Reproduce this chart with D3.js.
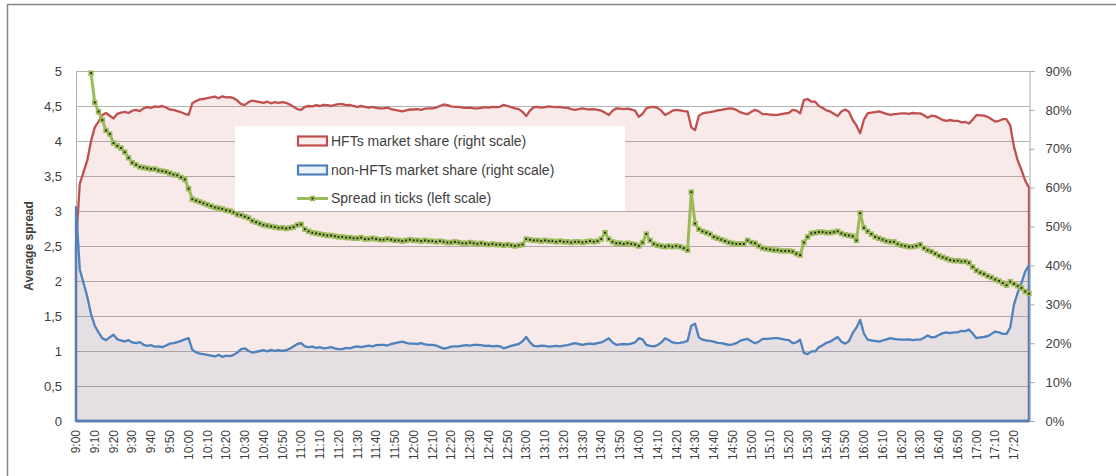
<!doctype html>
<html>
<head>
<meta charset="utf-8">
<script src="https://cdn.jsdelivr.net/npm/d3@7"></script>
<style>
  body { margin: 0; background: #fff; }
  text { font-family: "Liberation Sans", Arial, sans-serif; fill: #404040; }
</style>
</head>
<body>
<svg width="1116" height="476" id="chart"></svg>
<script>
// data: one point every 2 minutes from 9:00 to 17:28
const stepMinutes = 2;

const tickLabels = ["9:00","9:10","9:20","9:30","9:40","9:50","10:00","10:10","10:20","10:30","10:40","10:50",
  "11:00","11:10","11:20","11:30","11:40","11:50","12:00","12:10","12:20","12:30","12:40","12:50",
  "13:00","13:10","13:20","13:30","13:40","13:50","14:00","14:10","14:20","14:30","14:40","14:50",
  "15:00","15:10","15:20","15:30","15:40","15:50","16:00","16:10","16:20","16:30","16:40","16:50",
  "17:00","17:10","17:20"];

const leftTicks = [0, 0.5, 1, 1.5, 2, 2.5, 3, 3.5, 4, 4.5, 5];
const rightTicks = [0, 10, 20, 30, 40, 50, 60, 70, 80, 90];

// HFTs market share, % (right scale)
const hftShare = [
  45, 61, 64, 67, 72, 75.5, 77, 78.7, 79.2, 78.5, 77.8, 79, 79.3, 79.5, 79.2, 79.8, 80, 79.7, 80.4, 80.7,
  80.5, 80.9, 80.8, 81, 80.6, 80.1, 80, 79.7, 79.4, 79, 78.7, 81.7, 82.3, 82.7, 82.8, 83, 83.2, 83.4, 83, 83.5,
  83.2, 83.3, 83, 82.4, 81.5, 81.3, 82, 82.4, 82.2, 82, 81.8, 82.1, 81.7, 82, 81.8, 82, 81.8, 81.4, 80.8, 80.2,
  80, 80.8, 81, 80.9, 81.2, 81, 81.3, 81.2, 81, 81.3, 81.5, 81.5, 81.2, 81.3, 81, 80.8, 81, 80.8, 80.6, 80.8,
  80.5, 80.4, 80.4, 80.6, 80.2, 80, 79.8, 79.6, 79.9, 80.1, 80.1, 80.2, 80, 80.3, 80.4, 80.4, 80.6, 81, 81.4, 81.2,
  80.9, 80.8, 80.8, 80.6, 80.5, 80.6, 80.4, 80.4, 80.5, 80.7, 80.6, 80.8, 80.7, 80.8, 81.3, 81, 80.7, 80.4, 80.2, 79.5,
  78.4, 79.8, 80.7, 80.8, 80.6, 80.7, 80.9, 80.8, 80.7, 80.8, 80.6, 80.5, 80.2, 80, 80.2, 80.4, 80.2, 80.1, 80.2, 80,
  79.8, 79.3, 78.7, 79.8, 80.4, 80.3, 80.2, 80.3, 80.1, 79.8, 78.2, 79, 80.4, 80.7, 80.8, 80.5, 79.8, 78.7, 79.2, 79.8,
  80, 79.9, 79.7, 79.6, 75.5, 74.8, 78.5, 79.1, 79.3, 79.4, 79.6, 79.9, 80, 80.2, 80.4, 80.3, 80, 79.4, 79.1, 78.9,
  79.5, 80, 79.6, 78.9, 78.9, 78.8, 78.7, 78.7, 78.9, 79.1, 79.2, 80, 79.8, 79.1, 82.5, 82.8, 82.1, 82.1, 81, 80.5,
  79.9, 79.6, 79, 78.4, 79.6, 80.1, 79.5, 77.4, 76, 74, 77.5, 79.1, 79.3, 79.4, 79.6, 79.3, 79, 78.7, 78.9, 79,
  79.1, 79.1, 79, 79.2, 79.1, 79.1, 78.6, 78, 78.5, 78.4, 77.9, 77.4, 77.2, 77.4, 77.2, 77.2, 76.8, 76.9, 76.5, 77.5,
  78.7, 78.6, 78.5, 78.2, 77.6, 77, 77.2, 77.6, 77.6, 76, 70.5, 67, 64.5, 61.8, 60
];

// non-HFTs market share, % (right scale)
const nonHftShare = [
  55, 39, 35.5, 32, 27.5, 24.5, 22.8, 21.3, 20.8, 21.5, 22.2, 21, 20.7, 20.5, 20.8, 20.2, 20, 20.3, 19.6, 19.3,
  19.5, 19.1, 19.2, 19, 19.4, 19.9, 20, 20.3, 20.6, 21, 21.3, 18.3, 17.7, 17.3, 17.2, 17, 16.8, 16.6, 17, 16.5,
  16.8, 16.7, 17, 17.6, 18.5, 18.7, 18, 17.6, 17.8, 18, 18.2, 17.9, 18.3, 18, 18.2, 18, 18.2, 18.6, 19.2, 19.8,
  20, 19.2, 19, 19.1, 18.8, 19, 18.7, 18.8, 19, 18.7, 18.5, 18.5, 18.8, 18.7, 19, 19.2, 19, 19.2, 19.4, 19.2,
  19.5, 19.6, 19.6, 19.4, 19.8, 20, 20.2, 20.4, 20.1, 19.9, 19.9, 19.8, 20, 19.7, 19.6, 19.6, 19.4, 19, 18.6, 18.8,
  19.1, 19.2, 19.2, 19.4, 19.5, 19.4, 19.6, 19.6, 19.5, 19.3, 19.4, 19.2, 19.3, 19.2, 18.7, 19, 19.3, 19.6, 19.8, 20.5,
  21.6, 20.2, 19.3, 19.2, 19.4, 19.3, 19.1, 19.2, 19.3, 19.2, 19.4, 19.5, 19.8, 20, 19.8, 19.6, 19.8, 19.9, 19.8, 20,
  20.2, 20.7, 21.3, 20.2, 19.6, 19.7, 19.8, 19.7, 19.9, 20.2, 21.3, 21, 19.6, 19.3, 19.2, 19.5, 20.2, 21.3, 20.8, 20.2,
  20, 20.1, 20.3, 20.6, 24.5, 25, 21.5, 20.9, 20.7, 20.6, 20.4, 20.1, 20, 19.8, 19.6, 19.7, 20, 20.6, 20.9, 21.1,
  20.5, 20, 20.4, 21.1, 21.1, 21.2, 21.3, 21.3, 21.1, 20.9, 20.8, 20, 20.2, 20.9, 17.5, 17.2, 17.9, 17.9, 19, 19.5,
  20.1, 20.4, 21, 21.6, 20.4, 19.9, 20.5, 22.6, 24, 26, 22.5, 20.9, 20.7, 20.6, 20.4, 20.7, 21, 21.3, 21.1, 21,
  20.9, 20.9, 21, 20.8, 20.9, 20.9, 21.4, 22, 21.5, 21.6, 22.1, 22.6, 22.8, 22.6, 22.8, 22.8, 23.2, 23.1, 23.5, 22.5,
  21.3, 21.5, 21.6, 21.8, 22.4, 23, 22.8, 22.4, 22.4, 24, 30, 33, 35.5, 38.5, 40
];

// spread in ticks (left scale); line starts at 9:08
const spread = [
  null, null, null, null, 4.97, 4.55, 4.42, 4.3, 4.15, 4.1, 3.97, 3.93, 3.9, 3.84, 3.76, 3.69, 3.66, 3.63, 3.62, 3.61,
  3.6, 3.6, 3.58, 3.57, 3.56, 3.54, 3.52, 3.51, 3.48, 3.45, 3.32, 3.17, 3.15, 3.13, 3.11, 3.09, 3.07, 3.05, 3.04, 3.03,
  3.01, 3, 2.98, 2.95, 2.94, 2.92, 2.9, 2.86, 2.84, 2.82, 2.8, 2.79, 2.78, 2.77, 2.76, 2.76, 2.75, 2.76, 2.77, 2.8,
  2.81, 2.74, 2.71, 2.69, 2.68, 2.67, 2.66, 2.65, 2.65, 2.64, 2.63, 2.63, 2.62, 2.62, 2.61, 2.61, 2.62, 2.6, 2.6, 2.61,
  2.6, 2.59, 2.59, 2.6, 2.59, 2.58, 2.58, 2.57, 2.58, 2.59, 2.58, 2.58, 2.57, 2.58, 2.57, 2.57, 2.56, 2.57, 2.56, 2.55,
  2.55, 2.56, 2.55, 2.54, 2.54, 2.55, 2.54, 2.53, 2.54, 2.53, 2.52, 2.53, 2.52, 2.52, 2.51, 2.52, 2.51, 2.5, 2.51, 2.52,
  2.6, 2.59, 2.58, 2.58, 2.57, 2.58, 2.57, 2.57, 2.56, 2.57, 2.56, 2.56, 2.55, 2.56, 2.56, 2.55, 2.56, 2.57, 2.56, 2.57,
  2.6, 2.69, 2.6, 2.56, 2.54, 2.54, 2.53, 2.54, 2.53, 2.52, 2.5, 2.55, 2.67, 2.58, 2.53, 2.51, 2.5, 2.49, 2.5, 2.49,
  2.5, 2.49, 2.47, 2.44, 3.27, 2.82, 2.74, 2.71, 2.69, 2.67, 2.63, 2.61, 2.59, 2.57, 2.55, 2.54, 2.53, 2.53, 2.53, 2.58,
  2.55, 2.54, 2.5, 2.47, 2.46, 2.45, 2.44, 2.44, 2.43, 2.43, 2.43, 2.42, 2.39, 2.37, 2.55, 2.63, 2.68, 2.69, 2.7, 2.7,
  2.69, 2.69, 2.7, 2.71, 2.68, 2.66, 2.65, 2.64, 2.58, 2.97, 2.76, 2.71, 2.67, 2.63, 2.61, 2.59, 2.57, 2.56, 2.56, 2.53,
  2.51, 2.5, 2.49, 2.49, 2.5, 2.52, 2.47, 2.44, 2.42, 2.39, 2.36, 2.34, 2.32, 2.3, 2.29, 2.29, 2.28, 2.28, 2.26, 2.2,
  2.15, 2.12, 2.1, 2.07, 2.05, 2.02, 2, 1.97, 1.94, 1.99, 1.96, 1.93, 1.9, 1.85, 1.82
];

const legendItems = ["HFTs market share (right scale)", "non-HFTs market share (right scale)", "Spread in ticks (left scale)"];

const red = "#c0504d", blue = "#4f81bd", green = "#9bbb59";

const svg = d3.select('#chart');
const minutes = hftShare.map((d, i) => i * stepMinutes);
const plot = {left: 76, right: 1029, top: 71, bottom: 421};

const x = d3.scaleLinear().domain([0, d3.max(minutes)]).range([plot.left, plot.right]);
const yL = d3.scaleLinear().domain([0, 5]).range([plot.bottom, plot.top]);
const yR = d3.scaleLinear().domain([0, 90]).range([plot.bottom, plot.top]);

// outer chart frame
svg.append('rect')
  .attr('x', 7.5).attr('y', 4.5).attr('width', 1130).attr('height', 490)
  .attr('fill', 'none').attr('stroke', '#868686').attr('stroke-width', 1.5);

// gridlines (left scale)
svg.append('g').selectAll('line').data(leftTicks).join('line')
  .attr('x1', plot.left).attr('x2', plot.right)
  .attr('y1', d => Math.round(yL(d)) + 0.5).attr('y2', d => Math.round(yL(d)) + 0.5)
  .attr('stroke', '#b3b3b3').attr('stroke-width', 1.2);

svg.append('line')
  .attr('x1', plot.left + 0.5).attr('x2', plot.left + 0.5)
  .attr('y1', plot.top).attr('y2', plot.bottom)
  .attr('stroke', '#b3b3b3');

// areas
const shareArea = d3.area().x((d, i) => x(minutes[i])).y0(yR(0)).y1(d => yR(d));

svg.append('path')
  .attr('d', shareArea(hftShare))
  .attr('fill', red).attr('fill-opacity', 0.12)
  .attr('stroke', red).attr('stroke-width', 2.3).attr('stroke-linejoin', 'round');

svg.append('path')
  .attr('d', shareArea(nonHftShare))
  .attr('fill', blue).attr('fill-opacity', 0.1)
  .attr('stroke', blue).attr('stroke-width', 2.3).attr('stroke-linejoin', 'round');

// right axis
const rightAxis = svg.append('g')
  .attr('transform', `translate(${plot.right + 0.5},0)`)
  .call(d3.axisRight(yR).tickValues(rightTicks).tickSize(5).tickPadding(11).tickFormat(d => d + '%'));
rightAxis.select('.domain').attr('stroke', '#a6a6a6');
rightAxis.selectAll('.tick line').attr('stroke', '#a6a6a6');
rightAxis.selectAll('text').attr('font-size', 13).attr('fill', '#404040')
  .attr('font-family', '"Liberation Sans", Arial, sans-serif');

// left axis labels
const leftAxis = svg.append('g')
  .attr('transform', `translate(${plot.left},0)`)
  .call(d3.axisLeft(yL).tickValues(leftTicks).tickSize(0).tickPadding(14)
    .tickFormat(d => String(d).replace('.', ',')));
leftAxis.select('.domain').remove();
leftAxis.selectAll('text').attr('font-size', 13).attr('fill', '#404040')
  .attr('font-family', '"Liberation Sans", Arial, sans-serif');

// left axis title
svg.append('text')
  .attr('transform', `translate(33,${(plot.top + plot.bottom) / 2}) rotate(-90)`)
  .attr('text-anchor', 'middle')
  .attr('font-size', 12).attr('font-weight', 'bold').attr('fill', '#000')
  .text('Average spread');

// x axis labels
svg.append('g').selectAll('text').data(tickLabels).join('text')
  .attr('transform', (d, i) => `translate(${x(i * 10)},430) rotate(-90)`)
  .attr('text-anchor', 'end').attr('dy', '0.35em')
  .attr('font-size', 12).attr('fill', '#404040')
  .text(d => d);

// spread line with markers
const spreadLine = d3.line()
  .defined(d => d != null)
  .x((d, i) => x(minutes[i]))
  .y(d => yL(d));

svg.append('path')
  .attr('d', spreadLine(spread))
  .attr('fill', 'none').attr('stroke', green).attr('stroke-width', 3)
  .attr('stroke-linejoin', 'round');

svg.append('g').selectAll('rect')
  .data(spread.map((v, i) => ({v, t: minutes[i]})).filter(d => d.v != null))
  .join('rect')
  .attr('x', d => x(d.t) - 1.8).attr('y', d => yL(d.v) - 1.8)
  .attr('width', 3.6).attr('height', 3.6)
  .attr('fill', '#1a1a1a').attr('stroke', green).attr('stroke-width', 1.8);

// legend
const legend = svg.append('g');
legend.append('rect')
  .attr('x', 235).attr('y', 126).attr('width', 390).attr('height', 85)
  .attr('fill', '#fff');

const rowY = [141.5, 170.5, 198.5];
legendItems.forEach((label, i) => {
  if (i < 2) {
    const c = i === 0 ? red : blue;
    legend.append('rect')
      .attr('x', 298).attr('y', rowY[i] - 5).attr('width', 29).attr('height', 9)
      .attr('fill', c).attr('fill-opacity', 0.1)
      .attr('stroke', c).attr('stroke-width', 2.2);
  } else {
    legend.append('line')
      .attr('x1', 297).attr('x2', 328).attr('y1', rowY[i]).attr('y2', rowY[i])
      .attr('stroke', green).attr('stroke-width', 3);
    legend.append('rect')
      .attr('x', 310.7).attr('y', rowY[i] - 1.8).attr('width', 3.6).attr('height', 3.6)
      .attr('fill', '#1a1a1a').attr('stroke', green).attr('stroke-width', 1.8);
  }
  legend.append('text')
    .attr('x', 331).attr('y', rowY[i]).attr('dy', '0.35em')
    .attr('font-size', 14).attr('fill', '#000')
    .text(label);
});
</script>
</body>
</html>
